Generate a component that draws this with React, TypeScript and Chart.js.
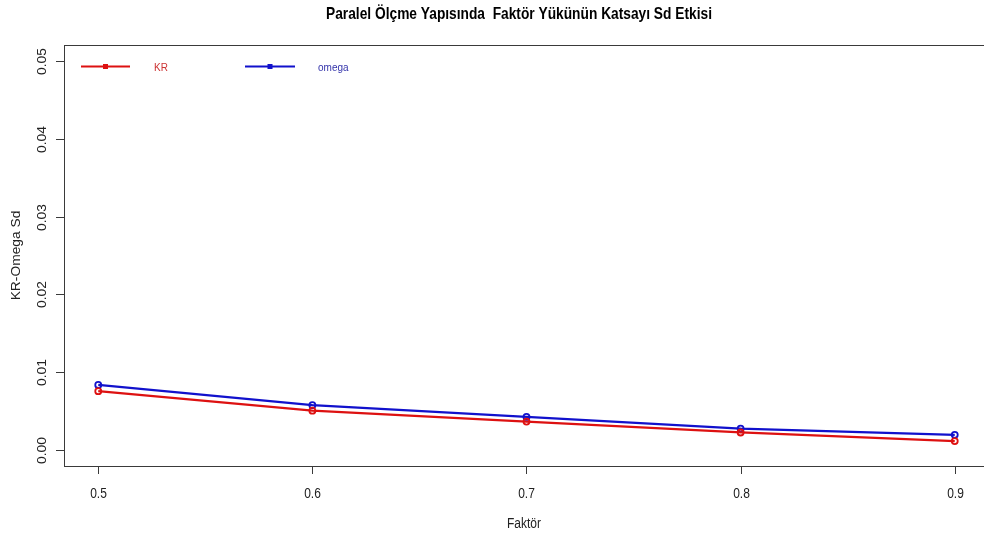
import React, { useEffect, useRef } from "react";
import { Chart, registerables } from "chart.js";

Chart.register(...registerables);

const factor = [0.5, 0.6, 0.7, 0.8, 0.9];
const krSd = [0.0076, 0.0051, 0.0037, 0.0023, 0.0012];
const omegaSd = [0.0084, 0.0058, 0.0043, 0.0028, 0.002];
const seriesNames = ["KR", "omega"];
const xTicks = [0.5, 0.6, 0.7, 0.8, 0.9];
const yTicks = [0.0, 0.01, 0.02, 0.03, 0.04, 0.05];
const titleText = "Paralel Ölçme Yapısında  Faktör Yükünün Katsayı Sd Etkisi";
const xTitle = "Faktör";
const yTitle = "KR-Omega Sd";

const RED = "#dd1111";
const BLUE = "#1111cc";
const FONT = "'Liberation Sans', Arial, sans-serif";
const CANVAS_W = 995;
const CANVAS_H = 543;
// glyphs are drawn taller than wide, like the device this plot style comes from
const V_STRETCH = 1.15;

function stretchedText(
  ctx: CanvasRenderingContext2D,
  text: string,
  x: number,
  y: number,
  font: string,
  rotated = false
) {
  ctx.save();
  ctx.translate(x, y);
  if (rotated) {
    ctx.rotate(-Math.PI / 2);
    ctx.scale(V_STRETCH, 1);
  } else {
    ctx.scale(1, V_STRETCH);
  }
  ctx.font = font;
  ctx.fillText(text, 0, 0);
  ctx.restore();
}

// R-style frame, axes, labels and legend drawn on top of the plot area
const baseGraphics = {
  id: "baseGraphics",
  afterDraw(chart: any) {
    const { ctx, chartArea, scales } = chart;
    const { left, right, top, bottom } = chartArea;
    const xs = scales.x;
    const ys = scales.y;
    ctx.save();
    ctx.strokeStyle = "#3a3a3a";
    ctx.lineWidth = 1;
    ctx.strokeRect(left + 0.5, top + 0.5, right - left, bottom - top);

    const tickFont = `12px ${FONT}`;
    ctx.fillStyle = "#222";
    ctx.textAlign = "center";
    ctx.textBaseline = "middle";

    // x axis
    const xp0 = xs.getPixelForValue(xTicks[0]);
    const xp1 = xs.getPixelForValue(xTicks[xTicks.length - 1]);
    ctx.beginPath();
    ctx.moveTo(xp0, bottom + 0.5);
    ctx.lineTo(xp1, bottom + 0.5);
    ctx.stroke();
    xTicks.forEach((v) => {
      const px = Math.round(xs.getPixelForValue(v)) + 0.5;
      ctx.beginPath();
      ctx.moveTo(px, bottom);
      ctx.lineTo(px, bottom + 8);
      ctx.stroke();
      stretchedText(ctx, v.toFixed(1), px, bottom + 28, tickFont);
    });

    // y axis
    const yp0 = ys.getPixelForValue(yTicks[0]);
    const yp1 = ys.getPixelForValue(yTicks[yTicks.length - 1]);
    ctx.beginPath();
    ctx.moveTo(left + 0.5, yp0);
    ctx.lineTo(left + 0.5, yp1);
    ctx.stroke();
    yTicks.forEach((v) => {
      const py = Math.round(ys.getPixelForValue(v)) + 0.5;
      ctx.beginPath();
      ctx.moveTo(left, py);
      ctx.lineTo(left - 8, py);
      ctx.stroke();
      stretchedText(ctx, v.toFixed(2), left - 21, py, tickFont, true);
    });

    // axis titles
    stretchedText(ctx, xTitle, 524, 524, tickFont);
    stretchedText(ctx, yTitle, 17, (top + bottom) / 2, tickFont, true);

    // main title
    ctx.fillStyle = "#000";
    stretchedText(ctx, titleText, 519, 15, `bold 13.75px ${FONT}`);

    // legend
    const legendY = 66.5;
    const entries = [
      { name: seriesNames[0], color: RED, text: "#cc3333", x0: 81, x1: 130, tx: 154 },
      { name: seriesNames[1], color: BLUE, text: "#3333aa", x0: 245, x1: 295, tx: 318 },
    ];
    entries.forEach((e) => {
      ctx.strokeStyle = e.color;
      ctx.lineWidth = 2;
      ctx.beginPath();
      ctx.moveTo(e.x0, legendY);
      ctx.lineTo(e.x1, legendY);
      ctx.stroke();
      ctx.fillStyle = e.color;
      const mx = (e.x0 + e.x1) / 2;
      ctx.fillRect(mx - 2.5, legendY - 2.5, 5, 5);
      ctx.fillStyle = e.text;
      ctx.textAlign = "left";
      stretchedText(ctx, e.name, e.tx, legendY + 1, `10px ${FONT}`);
    });
    ctx.restore();
  },
};

export default function App() {
  const canvasRef = useRef<HTMLCanvasElement | null>(null);

  useEffect(() => {
    document.body.style.margin = "0";
    const canvas = canvasRef.current;
    if (!canvas) return;
    const toPoints = (vals: number[]) => factor.map((f, i) => ({ x: f, y: vals[i] }));
    const lineStyle = (color: string) => ({
      borderColor: color,
      backgroundColor: "rgba(0,0,0,0)",
      borderWidth: 2.3,
      pointRadius: 3,
      pointBorderWidth: 1.8,
      pointBorderColor: color,
      pointBackgroundColor: "rgba(0,0,0,0)",
      tension: 0,
    });
    const chart = new Chart(canvas, {
      type: "line",
      data: {
        datasets: [
          { label: seriesNames[0], data: toPoints(krSd), ...lineStyle(RED) },
          { label: seriesNames[1], data: toPoints(omegaSd), ...lineStyle(BLUE) },
        ],
      },
      options: {
        responsive: false,
        animation: false,
        devicePixelRatio: 1,
        layout: { padding: { left: 64, top: 45, right: CANVAS_W - 989, bottom: CANVAS_H - 466 } },
        plugins: { legend: { display: false }, tooltip: { enabled: false }, title: { display: false } },
        scales: {
          x: { type: "linear", min: 0.484, max: 0.916, display: false },
          y: { type: "linear", min: -0.002, max: 0.052, display: false },
        },
      },
      plugins: [baseGraphics],
    });
    return () => chart.destroy();
  }, []);

  return (
    <div style={{ position: "fixed", left: 0, top: 0, width: 984, height: 543, overflow: "hidden", background: "#fff" }}>
      <canvas ref={canvasRef} width={CANVAS_W} height={CANVAS_H} style={{ display: "block" }} />
    </div>
  );
}
